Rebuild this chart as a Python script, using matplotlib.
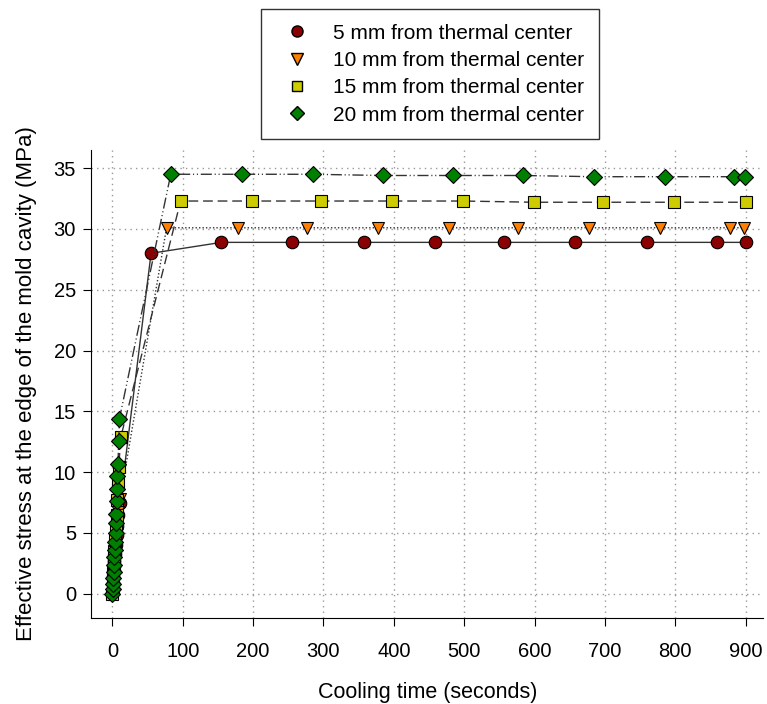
import matplotlib.pyplot as plt
import numpy as np

plt.rcParams['font.family'] = ['Liberation Sans', 'DejaVu Sans']

# 5 mm from thermal center
t5 = [0, 0.5, 1, 1.5, 2, 2.5, 3, 4, 5, 6, 7, 8, 11, 55, 155, 256, 357, 458, 557, 658, 760, 860, 900]
s5 = [0, 0.4, 0.9, 1.4, 1.9, 2.3, 2.7, 3.3, 4.0, 4.8, 5.6, 6.5, 7.5, 28.0,
      28.9, 28.9, 28.9, 28.9, 28.9, 28.9, 28.9, 28.9, 28.9]

# 10 mm from thermal center
t10 = [0, 0.5, 1, 1.5, 2, 2.5, 3, 4, 5, 6, 7, 8, 11, 77, 178, 277, 377, 478, 577, 677, 778, 878, 898]
s10 = [0, 0.4, 0.9, 1.4, 1.9, 2.4, 2.8, 3.4, 4.1, 4.9, 5.8, 6.7, 7.8, 30.1,
       30.1, 30.1, 30.1, 30.1, 30.1, 30.1, 30.1, 30.1, 30.1]

# 15 mm from thermal center
t15 = [0, 0.5, 1, 1.5, 2, 2.5, 3, 4, 5, 6, 7, 8, 9, 12, 97, 198, 297, 397, 498, 599, 698, 798, 900]
s15 = [0, 0.5, 1.1, 1.7, 2.3, 2.9, 3.5, 4.4, 5.4, 6.5, 7.7, 9.0, 10.4, 12.9, 32.3,
       32.3, 32.3, 32.3, 32.3, 32.2, 32.2, 32.2, 32.2]

# 20 mm from thermal center
t20 = [0, 0.5, 1, 1.5, 2, 2.5, 3, 3.5, 4, 4.5, 5, 5.5, 6, 6.5, 7, 8, 9, 10,
       83, 184, 285, 384, 484, 584, 684, 785, 884, 899]
s20 = [0, 0.4, 0.8, 1.3, 1.8, 2.4, 3.0, 3.6, 4.3, 5.0, 5.8, 6.6, 7.6, 8.6, 9.7,
       10.7, 12.6, 14.4, 34.5, 34.5, 34.5, 34.4, 34.4, 34.4, 34.3, 34.3, 34.3, 34.3]

labels = ['5 mm from thermal center', '10 mm from thermal center',
          '15 mm from thermal center', '20 mm from thermal center']

fig = plt.figure(figsize=(7.67, 7.04), dpi=100)
ax = fig.add_axes([0.119, 0.122, 0.876, 0.665])

kw = dict(markeredgecolor='black', markeredgewidth=0.8, color='#333333', linewidth=1.0)
ax.plot(t5, s5, linestyle='-', marker='o', markersize=9, markerfacecolor='#8B0000', **kw)
ax.plot(t10, s10, linestyle=(0, (1, 1.5)), marker='v', markersize=9, markerfacecolor='#FF8000', **kw)
ax.plot(t15, s15, linestyle=(0, (7, 3.5)), marker='s', markersize=8.5, markerfacecolor='#CCCC00', **kw)
ax.plot(t20, s20, linestyle=(0, (8, 2, 0.8, 2, 0.8, 2)), marker='D', markersize=8, markerfacecolor='#008000', **kw)

handles = [
    plt.Line2D([], [], linestyle='none', marker='o', markersize=8, markerfacecolor='#8B0000', markeredgecolor='black'),
    plt.Line2D([], [], linestyle='none', marker='v', markersize=8, markerfacecolor='#FF8000', markeredgecolor='black'),
    plt.Line2D([], [], linestyle='none', marker='s', markersize=7, markerfacecolor='#CCCC00', markeredgecolor='black'),
    plt.Line2D([], [], linestyle='none', marker='D', markersize=7, markerfacecolor='#008000', markeredgecolor='black'),
]
leg = fig.legend(handles, labels, loc='upper center', bbox_to_anchor=(0.5606, 0.987),
                 fontsize=15, frameon=True, fancybox=False, edgecolor='black',
                 handletextpad=0.76, labelspacing=0.4, borderpad=0.7, handlelength=2.0,
                 borderaxespad=0)
leg.get_frame().set_linewidth(1.0)

ax.set_xlim(-30, 925)
ax.set_ylim(-2, 36.5)
ax.set_xticks(np.arange(0, 901, 100))
ax.set_yticks(np.arange(0, 36, 5))
ax.grid(True, linestyle=(0, (1, 3)), color='#999999', linewidth=1.0)
ax.spines['top'].set_visible(False)
ax.spines['right'].set_visible(False)
ax.tick_params(direction='out', length=6, labelsize=14.5)
ax.tick_params(axis='x', pad=11)
ax.tick_params(axis='y', pad=5)
ax.set_xlabel('Cooling time (seconds)', fontsize=15.5, labelpad=15)
ax.set_ylabel('Effective stress at the edge of the mold cavity (MPa)', fontsize=16, labelpad=12)

fig.savefig('out.png', dpi=100)
